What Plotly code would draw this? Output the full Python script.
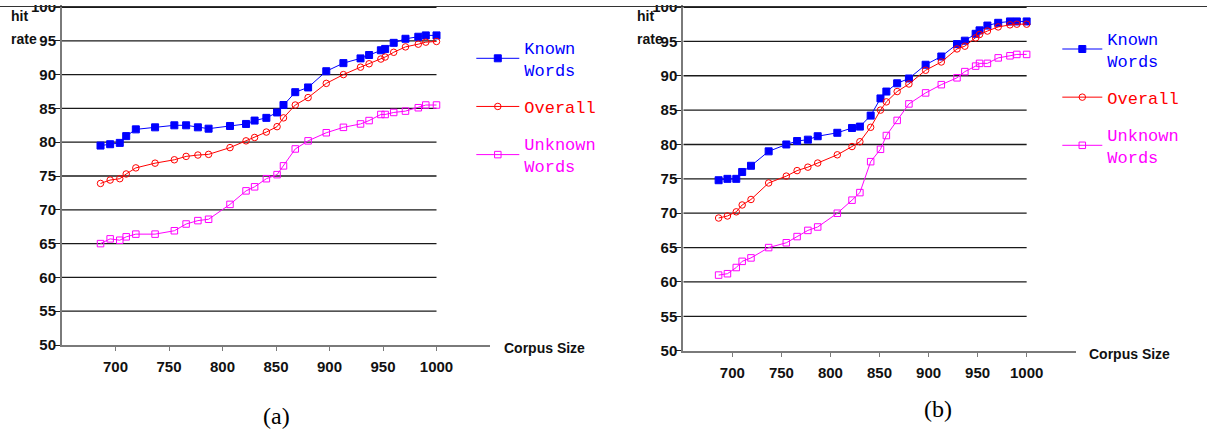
import plotly.graph_objects as go

# ---------------- data ----------------
corpus_size = [686, 695, 704, 710, 719, 737, 755, 766, 777, 787, 807, 822, 830, 841, 851,
               857, 868, 880, 897, 913, 929, 937, 948, 952, 960, 971, 983, 990, 1000]

a_known = [79.5, 79.7, 79.9, 80.9, 81.9, 82.2, 82.5, 82.5, 82.2, 82.0, 82.4, 82.7, 83.2, 83.6, 84.4,
           85.5, 87.4, 88.1, 90.5, 91.7, 92.4, 92.9, 93.6, 93.8, 94.7, 95.3, 95.6, 95.8, 95.8]
a_overall = [73.9, 74.4, 74.6, 75.3, 76.2, 76.9, 77.4, 77.9, 78.1, 78.2, 79.2, 80.2, 80.7, 81.5, 82.3,
             83.6, 85.5, 86.6, 88.7, 90.0, 91.1, 91.6, 92.3, 92.6, 93.3, 94.1, 94.5, 94.8, 94.9]
a_unknown = [65.0, 65.7, 65.5, 66.0, 66.4, 66.4, 66.9, 67.9, 68.4, 68.6, 70.8, 72.8, 73.4, 74.6, 75.2,
             76.5, 79.0, 80.2, 81.4, 82.2, 82.7, 83.2, 84.1, 84.1, 84.4, 84.6, 85.1, 85.5, 85.5]

b_known = [74.8, 75.0, 75.0, 76.0, 76.9, 79.0, 80.0, 80.5, 80.7, 81.2, 81.7, 82.4, 82.6, 84.2, 86.7,
           87.7, 88.9, 89.6, 91.6, 92.8, 94.6, 95.1, 96.1, 96.6, 97.3, 97.7, 97.9, 97.9, 97.9]
b_overall = [69.3, 69.6, 70.2, 71.2, 72.0, 74.4, 75.4, 76.2, 76.7, 77.3, 78.5, 79.7, 80.4, 82.5, 85.0,
             86.2, 87.7, 88.8, 90.8, 92.0, 93.9, 94.3, 95.5, 96.0, 96.5, 97.1, 97.4, 97.5, 97.5]
b_unknown = [61.0, 61.2, 62.1, 63.0, 63.5, 65.0, 65.7, 66.6, 67.5, 68.0, 70.0, 71.9, 73.0, 77.5, 79.3,
             81.3, 83.5, 85.9, 87.5, 88.7, 89.7, 90.6, 91.4, 91.8, 91.8, 92.6, 92.9, 93.1, 93.1]

x_ticks = [700, 750, 800, 850, 900, 950, 1000]
y_ticks = [50, 55, 60, 65, 70, 75, 80, 85, 90, 95, 100]
grid_levels = [55, 60, 65, 70, 75, 80, 85, 90, 95, 100]

series_names = ["Known<br>Words", "Overall", "Unknown<br>Words"]
series_colors = ["#0000ff", "#ff0000", "#ff00ff"]
series_symbols = ["square", "circle-open", "square-open"]

# ---------------- figure ----------------
W, H = 1207, 437
fig = go.Figure()

panels = [
    dict(xa="x", ya="y", legend="legend", data=[a_known, a_overall, a_unknown]),
    dict(xa="x2", ya="y2", legend="legend2", data=[b_known, b_overall, b_unknown]),
]

for p in panels:
    for i, vals in enumerate(p["data"]):
        col = series_colors[i]
        label = "<br>".join(
            f"<span style='color:{col}'>{part}</span>" for part in series_names[i].split("<br>")
        )
        fig.add_trace(go.Scatter(
            x=corpus_size, y=vals, xaxis=p["xa"], yaxis=p["ya"],
            mode="lines+markers", name=label, legend=p["legend"], legendgroup=f"{p['legend']}{i}",
            line=dict(color=col, width=1),
            marker=dict(symbol=series_symbols[i], size=7 if i == 0 else 6.5, color=col,
                        line=dict(color=col, width=1)),
            hoverinfo="skip",
        ))

tick_font = dict(family="Liberation Sans, Arial, sans-serif", size=15, color="#111111", weight="bold")
label_font = dict(family="Liberation Sans, Arial, sans-serif", size=14, color="#111111", weight="bold")
legend_font = dict(family="Liberation Mono, DejaVu Sans Mono, monospace", size=17)

def xaxis(domain, anchor):
    return dict(domain=domain, anchor=anchor, range=[650, 1050], tickvals=x_ticks,
                showline=True, linecolor="#7a7a7a", linewidth=2, ticks="outside", ticklen=4,
                tickcolor="#7a7a7a", tickwidth=1, showgrid=False, zeroline=False,
                tickfont=tick_font, ticklabelstandoff=3, ticklabeloverflow="allow",
                automargin=False, fixedrange=True)

def yaxis(domain, anchor):
    return dict(domain=domain, anchor=anchor, range=[50, 100.5], tickvals=y_ticks,
                showline=True, linecolor="#7a7a7a", linewidth=2, ticks="outside", ticklen=5,
                tickcolor="#222222", tickwidth=1, showgrid=False, zeroline=False,
                tickfont=tick_font, ticklabelstandoff=-4, ticklabeloverflow="allow",
                automargin=False, fixedrange=True)

shapes = []
for xa, ya in (("x", "y"), ("x2", "y2")):
    for g in grid_levels:
        shapes.append(dict(type="line", xref=xa, yref=ya, x0=650, x1=1000, y0=g, y1=g,
                           line=dict(color="#1a1a1a", width=2.2 if g == 100 else 1.3), layer="below"))
# white strip at the very top and thin page rule
shapes.append(dict(type="rect", xref="paper", yref="paper", x0=0, x1=1, y0=1 - 5 / H, y1=1,
                   fillcolor="white", line=dict(width=0), layer="above"))
shapes.append(dict(type="line", xref="paper", yref="paper", x0=0, x1=1, y0=1 - 6.5 / H, y1=1 - 6.5 / H,
                   line=dict(color="#333333", width=1), layer="above"))

annotations = []
for x0, cx, cy in ((9, 501.7, 348.3), (635, 1086.7, 354)):
    annotations.append(dict(text="hit", xref="paper", yref="paper", x=x0 / W, y=1 - 15.5 / H,
                            xanchor="left", yanchor="middle", showarrow=False, font=label_font))
    annotations.append(dict(text="rate", xref="paper", yref="paper", x=x0 / W, y=1 - 39 / H,
                            xanchor="left", yanchor="middle", showarrow=False, font=label_font))
    annotations.append(dict(text="Corpus Size", xref="paper", yref="paper", x=cx / W, y=1 - cy / H,
                            xanchor="left", yanchor="middle", showarrow=False, font=label_font))
for txt, cx, cy in (("(a)", 276, 416), ("(b)", 938, 409)):
    annotations.append(dict(text=txt, xref="paper", yref="paper", x=cx / W, y=1 - cy / H,
                            xanchor="center", yanchor="middle", showarrow=False,
                            font=dict(family="Liberation Serif, Times New Roman, serif", size=24,
                                      color="#000000")))

fig.update_layout(
    width=W, height=H, margin=dict(l=0, r=0, t=0, b=0, autoexpand=False),
    paper_bgcolor="white", plot_bgcolor="rgba(0,0,0,0)",
    xaxis=xaxis([62 / W, 490 / W], "y"),
    yaxis=yaxis([1 - 345 / H, 1 - 3.62 / H], "x"),
    xaxis2=xaxis([683.3 / W, 1075.7 / W], "y2"),
    yaxis2=yaxis([1 - 350.7 / H, 1 - 3.56 / H], "x2"),
    shapes=shapes, annotations=annotations,
    showlegend=True,
    legend=dict(x=(476.3 - 5) / W, y=1 - 29.7 / H, xanchor="left", yanchor="top",
                font=legend_font, itemwidth=43, tracegroupgap=12, valign="middle",
                bgcolor="rgba(0,0,0,0)", borderwidth=0, traceorder="grouped",
                itemclick=False, itemdoubleclick=False),
    legend2=dict(x=(1062.3 - 5) / W, y=1 - 20.4 / H, xanchor="left", yanchor="top",
                 font=legend_font, itemwidth=40, tracegroupgap=12, valign="middle",
                 bgcolor="rgba(0,0,0,0)", borderwidth=0, traceorder="grouped",
                 itemclick=False, itemdoubleclick=False),
)

fig.write_html("out.html", config=dict(displayModeBar=False),
               post_script="document.body.style.margin='0px';document.body.style.overflow='hidden';")
